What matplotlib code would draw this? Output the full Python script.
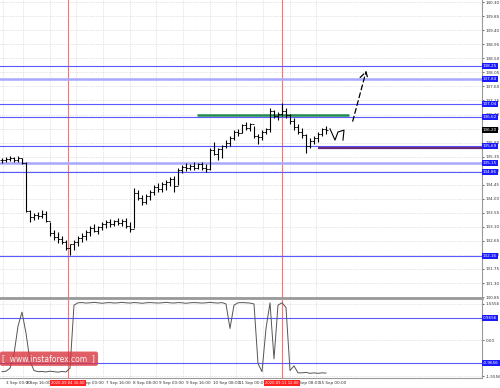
import matplotlib
matplotlib.use("Agg")
import matplotlib.pyplot as plt
import matplotlib.transforms as mtrans
import numpy as np

# price bars (H1-ish)
highs = [135.31, 135.34, 135.37, 135.34, 135.37, 135.31, 135.18, 133.64, 133.54, 133.58,
         133.64, 133.61, 133.25, 133.00, 132.93, 132.81, 132.68, 132.55, 132.68, 132.81,
         132.90, 133.00, 133.13, 133.19, 133.13, 133.25, 133.32, 133.35, 133.32, 133.38,
         133.35, 133.38, 133.25, 134.34, 134.28, 134.12, 134.15, 134.28, 134.44, 134.50,
         134.54, 134.60, 134.70, 134.73, 134.99, 135.08, 135.15, 135.11, 135.18, 135.15,
         135.18, 135.11, 135.63, 135.82, 135.63, 135.72, 135.88, 136.01, 136.20, 136.23,
         136.40, 136.46, 136.43, 136.33, 136.08, 136.20, 136.27, 136.91, 136.85, 136.78,
         137.07, 136.91, 136.72, 136.59, 136.40, 136.27, 136.08, 135.95, 136.01, 136.14,
         136.27, 136.33]
lows = [135.15, 135.18, 135.21, 135.18, 135.18, 135.11, 133.58, 133.25, 133.32, 133.35,
        133.38, 133.25, 132.81, 132.68, 132.58, 132.55, 132.36, 132.20, 132.36, 132.49,
        132.61, 132.68, 132.81, 132.93, 132.87, 133.00, 133.06, 133.09, 133.13, 133.16,
        133.13, 133.06, 132.93, 133.06, 133.96, 133.80, 133.83, 133.96, 134.12, 134.22,
        134.22, 134.28, 134.41, 134.22, 134.44, 134.83, 134.89, 134.92, 134.92, 134.95,
        134.92, 134.86, 134.92, 135.40, 135.24, 135.31, 135.63, 135.69, 135.88, 136.01,
        136.11, 136.20, 136.17, 135.95, 135.75, 135.88, 136.08, 136.14, 136.59, 136.52,
        136.65, 136.59, 136.40, 136.20, 136.08, 135.95, 135.47, 135.63, 135.75, 135.82,
        136.01, 136.08]
closes = [135.25, 135.28, 135.30, 135.24, 135.30, 135.16, 133.62, 133.40, 133.48, 133.45,
          133.52, 133.28, 132.90, 132.78, 132.70, 132.62, 132.42, 132.55, 132.62, 132.74,
          132.82, 132.95, 133.05, 132.98, 133.08, 133.20, 133.25, 133.18, 133.28, 133.22,
          133.30, 133.12, 133.02, 134.20, 134.02, 133.90, 134.10, 134.22, 134.38, 134.30,
          134.48, 134.55, 134.62, 134.40, 134.92, 135.02, 134.98, 135.06, 135.00, 135.10,
          134.98, 134.95, 135.55, 135.45, 135.58, 135.68, 135.80, 135.96, 136.15, 136.12,
          136.35, 136.28, 136.38, 136.02, 135.98, 136.15, 136.22, 136.80, 136.65, 136.72,
          136.82, 136.68, 136.48, 136.30, 136.15, 136.05, 135.70, 135.85, 135.95, 136.08,
          136.22, 136.20]

# oscillator in the sub window
osc = [-1.35, -1.33, -1.20, -0.60, 0.60, 1.20, 0.30, -0.90, -1.30, -1.35,
       -1.34, -1.36, -1.33, -1.35, -1.37, -1.34, -1.36, -1.20, 1.50, 1.60,
       1.61, 1.59, 1.60, 1.62, 1.60, 1.58, 1.60, 1.61, 1.59, 1.60,
       1.62, 1.60, 1.59, 1.61, 1.60, 1.58, 1.60, 1.61, 1.60, 1.59,
       1.60, 1.62, 1.60, 1.59, 1.61, 1.60, 1.58, 1.60, 1.61, 1.60,
       1.59, 1.60, 1.62, 1.60, 1.59, 1.61, 1.55, 0.50, 1.50, 1.60,
       1.61, 1.60, 1.59, 1.55, -1.00, -1.35, 0.50, 1.60, -0.80, 1.50,
       1.60, 1.40, -1.30, -1.10, -1.40, -1.40, -1.38, -1.42, -1.40, -1.42,
       -1.40, -1.41]

price_ticks = [130.85, 131.30, 131.75, 132.20, 132.65, 133.10, 133.55, 134.00, 134.45,
               134.90, 135.35, 135.80, 136.25, 136.70, 137.15, 137.60, 138.05, 138.50,
               138.95, 139.40, 139.85, 140.30]
levels = [138.25, 137.84, 137.04, 136.62, 135.69, 135.15, 134.86, 132.16]
wide_levels = [137.84, 135.15]
last_price = 136.20
green_level = 136.68
green_span = [48.75, 86.75]
red_level = 135.64
red_start = 79
red_times = [16.5, 70]
red_labels = ["2020.09.04 16:00", "2020.09.11 12:00"]
time_ticks = [0.25, 5.25, 12, 18.5, 25.25, 32, 38.5, 45.25, 52, 58.5, 65.25, 72, 78.5]
time_labels = ["3 Sep 00:00", "3 Sep 16:00", "4 Sep 08:00", "7 Sep 00:00", "7 Sep 16:00",
               "8 Sep 08:00", "9 Sep 00:00", "9 Sep 16:00", "10 Sep 08:00", "11 Sep 00:00",
               "11 Sep 16:00", "14 Sep 08:00", "15 Sep 00:00"]
zig_x = [82, 83.25, 84, 85.5, 85.25]
zig_y = [136.24, 135.88, 136.14, 136.20, 135.88]
arrow_from = (87.5, 136.40)
arrow_to = (91.25, 138.19)
osc_levels = [0.9656, -0.9656]
osc_ticks = [1.5556, 0.0, -1.5556]

fs = 3.0
x = np.arange(len(closes))
opens = [closes[0]] + closes[:-1]

fig = plt.figure(figsize=(5, 3.88), dpi=100)
ax = fig.add_axes([0, 0.232, 0.964, 0.768])
sub = fig.add_axes([0, 0.0258, 0.964, 0.201])

for a in (ax, sub):
    a.set_xlim(-0.5, 120)
    a.set_facecolor("white")
    for side in ("left", "top"):
        a.spines[side].set_visible(False)
    a.spines["right"].set_color("#999999")
    a.spines["bottom"].set_color("#999999")
    a.yaxis.tick_right()
    a.tick_params(axis="y", labelsize=fs, length=1.5, pad=1, colors="#333333", width=0.5)
    a.set_xticks(time_ticks)
    a.tick_params(axis="x", length=0, labelbottom=False)
    a.grid(True, color="#cccccc", ls=(0, (1, 1.5)), lw=0.5)
    a.set_axisbelow(True)
    for t in red_times:
        a.axvline(t, color="#ff7070", lw=0.8, zorder=1)
ax.spines["bottom"].set_linewidth(2)

ax.set_ylim(130.82, 140.37)
ax.set_yticks(price_ticks)
ax.set_yticklabels(["%.2f" % v for v in price_ticks])

for lv in levels:
    wide = lv in wide_levels
    ax.axhline(lv, color="#a8a8ff" if wide else "#5a5aff", lw=1.8 if wide else 0.8, zorder=2)
    ax.text(1.002, lv, "%.2f" % lv, transform=mtrans.blended_transform_factory(ax.transAxes, ax.transData),
            fontsize=fs, color="white", va="center", ha="left",
            bbox=dict(boxstyle="square,pad=0.25", fc="#1a1aff", ec="none"), zorder=5)
ax.text(1.002, last_price, "%.2f" % last_price,
        transform=mtrans.blended_transform_factory(ax.transAxes, ax.transData),
        fontsize=fs, color="white", va="center", ha="left",
        bbox=dict(boxstyle="square,pad=0.25", fc="black", ec="none"), zorder=5)

ax.hlines(green_level, green_span[0], green_span[1], color="#1f8a4c", lw=1.8, zorder=3)
ax.hlines(red_level, red_start, 120, color="#6a2a7a", lw=1.6, zorder=3)

ax.vlines(x, lows, highs, color="black", lw=0.8, zorder=4)
ax.hlines(opens, x - 0.45, x, color="black", lw=0.6, zorder=4)
ax.hlines(closes, x, x + 0.45, color="black", lw=0.6, zorder=4)

ax.plot(zig_x, zig_y, color="black", lw=0.8, zorder=4)
ax.annotate("", xy=arrow_to, xytext=arrow_from,
            arrowprops=dict(arrowstyle="->,head_length=0.5,head_width=0.3", ls=(0, (4, 2.5)),
                            lw=0.9, color="black"), zorder=4)

sub.set_ylim(-1.62, 1.72)
sub.set_yticks(osc_ticks)
sub.set_yticklabels(["1.5556", "0.00", "-1.5556"])
for lv in osc_levels:
    sub.axhline(lv, color="#5a5aff", lw=0.8, zorder=2)
    sub.text(1.002, lv, "%.4f" % lv, transform=mtrans.blended_transform_factory(sub.transAxes, sub.transData),
             fontsize=fs, color="white", va="center", ha="left",
             bbox=dict(boxstyle="square,pad=0.25", fc="#1a1aff", ec="none"), zorder=5)
sub.plot(x, osc, color="#555555", lw=0.7, zorder=3)

tb = mtrans.blended_transform_factory(sub.transData, sub.transAxes)
for t, lab in zip(time_ticks, time_labels):
    sub.text(t + 0.8, -0.065, lab, transform=tb, fontsize=fs, color="#333333",
             ha="left", va="center", clip_on=False)
for t, lab in zip(red_times, red_labels):
    sub.text(t, -0.065, lab, transform=tb, fontsize=fs - 0.3, color="white",
             ha="center", va="center", clip_on=False, zorder=6,
             bbox=dict(boxstyle="square,pad=0.3", fc="#ff2020", ec="none"))

fig.text(0.005, 0.0755, "[  www.instaforex.com  ]", fontsize=5.5, color="#f4f4f4",
         ha="left", va="center",
         bbox=dict(boxstyle="round,pad=0.35,rounding_size=0.3", fc="#d9363e", ec="none", alpha=0.8))

fig.savefig("out.png", dpi=100)
